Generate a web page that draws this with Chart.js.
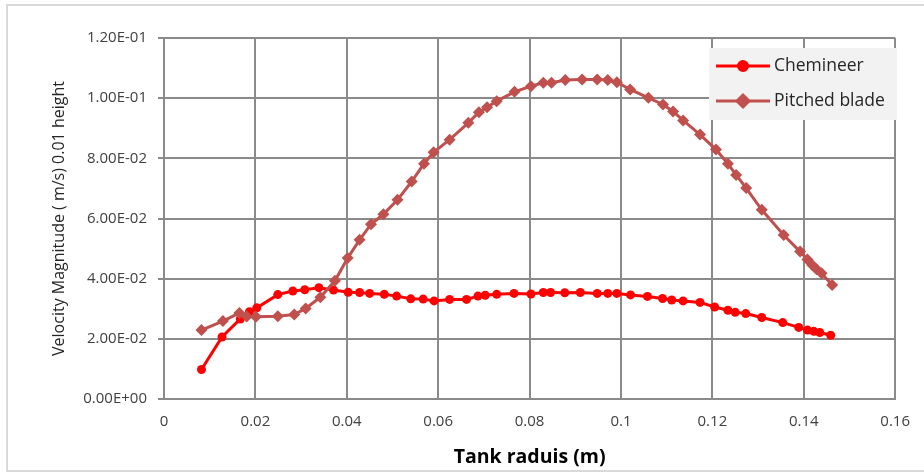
<!DOCTYPE html>
<html>
<head>
<meta charset="utf-8">
<script src="https://cdn.jsdelivr.net/npm/chart.js@4/dist/chart.umd.min.js"></script>
<style>
  html, body { margin: 0; padding: 0; background: #ffffff; overflow: hidden; }
  #wrap { position: relative; width: 924px; height: 475px; }
</style>
</head>
<body>
<div id="wrap"><canvas id="c" width="924" height="475"></canvas></div>
<script>
// ---- data ----
const seriesNames = ['Chemineer', 'Pitched blade'];

const chemineerX = [0.0082, 0.0127, 0.0167, 0.0187, 0.0203, 0.0249, 0.0282, 0.0308, 0.0339, 0.0371,
  0.0403, 0.0428, 0.0450, 0.0482, 0.0509, 0.0540, 0.0567, 0.0591, 0.0625, 0.0662,
  0.0687, 0.0703, 0.0728, 0.0766, 0.0803, 0.0830, 0.0846, 0.0877, 0.0911, 0.0948,
  0.0971, 0.0991, 0.1021, 0.1058, 0.1091, 0.1111, 0.1136, 0.1173, 0.1205, 0.1234,
  0.1250, 0.1273, 0.1308, 0.1354, 0.1389, 0.1408, 0.1422, 0.1435, 0.1459];
const chemineerY = [0.0098, 0.0206, 0.0266, 0.0290, 0.0303, 0.0347, 0.0359, 0.0363, 0.0370, 0.0362,
  0.0355, 0.0354, 0.0351, 0.0348, 0.0342, 0.0333, 0.0332, 0.0326, 0.0331, 0.0331,
  0.0342, 0.0345, 0.0348, 0.0351, 0.0349, 0.0354, 0.0354, 0.0353, 0.0354, 0.0351,
  0.0351, 0.0351, 0.0346, 0.0341, 0.0334, 0.0329, 0.0326, 0.0321, 0.0306, 0.0295,
  0.0288, 0.0284, 0.0271, 0.0254, 0.0238, 0.0229, 0.0225, 0.0221, 0.0212];

const pitchedX = [0.0082, 0.0129, 0.0165, 0.0181, 0.0201, 0.0249, 0.0285, 0.0310, 0.0342, 0.0374,
  0.0402, 0.0428, 0.0453, 0.0480, 0.0511, 0.0542, 0.0569, 0.0590, 0.0625, 0.0666,
  0.0689, 0.0707, 0.0728, 0.0767, 0.0803, 0.0830, 0.0848, 0.0878, 0.0915, 0.0948,
  0.0971, 0.0991, 0.1020, 0.1060, 0.1092, 0.1114, 0.1136, 0.1173, 0.1208, 0.1234,
  0.1252, 0.1274, 0.1308, 0.1356, 0.1392, 0.1408, 0.1419, 0.1428, 0.1439, 0.1462];
const pitchedY = [0.0229, 0.0259, 0.0286, 0.0274, 0.0273, 0.0275, 0.0281, 0.0301, 0.0338, 0.0393,
  0.0469, 0.0529, 0.0581, 0.0614, 0.0662, 0.0723, 0.0782, 0.0820, 0.0862, 0.0918,
  0.0953, 0.0970, 0.0990, 0.1021, 0.1040, 0.1051, 0.1051, 0.1060, 0.1062, 0.1062,
  0.1060, 0.1053, 0.1029, 0.1001, 0.0979, 0.0956, 0.0926, 0.0879, 0.0829, 0.0782,
  0.0745, 0.0701, 0.0629, 0.0545, 0.0490, 0.0464, 0.0445, 0.0431, 0.0418, 0.0379];

const xTickLabels = ['0', '0.02', '0.04', '0.06', '0.08', '0.1', '0.12', '0.14', '0.16'];
const yTickLabels = ['0.00E+00', '2.00E-02', '4.00E-02', '6.00E-02', '8.00E-02', '1.00E-01', '1.20E-01'];

const xTitle = 'Tank raduis (m)';
const yTitle = 'Velocity Magnitude ( m/s) 0.01 height';

// ---- styling ----
const FONT = "'Open Sans', 'DejaVu Sans', sans-serif";
const chemColor = '#ff0000';
const pitchColor = '#c0504d';
const gridColor = '#8a8a8a';

function toPoints(xs, ys) { return xs.map((x, i) => ({ x: x, y: ys[i] })); }

const frame = {
  id: 'frame',
  beforeDraw(chart) {
    const ctx = chart.ctx;
    ctx.save();
    ctx.fillStyle = '#ffffff';
    ctx.fillRect(0, 0, chart.width, chart.height);
    ctx.strokeStyle = '#d9d9d9';
    ctx.lineWidth = 2;
    ctx.strokeRect(7, 5, 940, 466);
    ctx.restore();
  }
};

const boxLegend = {
  id: 'boxLegend',
  afterDraw(chart) {
    const ctx = chart.ctx;
    ctx.save();
    ctx.fillStyle = '#f2f2f2';
    ctx.fillRect(709, 48, 188, 72);
    const rows = [
      { y: 66, color: chemColor, style: 'circle', r: 4.5, name: seriesNames[0] },
      { y: 101, color: pitchColor, style: 'rectRot', r: 6, name: seriesNames[1] }
    ];
    rows.forEach(row => {
      ctx.strokeStyle = row.color;
      ctx.lineWidth = 3;
      ctx.beginPath();
      ctx.moveTo(716, row.y);
      ctx.lineTo(770, row.y);
      ctx.stroke();
      ctx.fillStyle = row.color;
      Chart.helpers.drawPoint(ctx, { pointStyle: row.style, radius: row.r, borderWidth: 1 }, 743, row.y);
      ctx.fill();
      ctx.fillStyle = '#262626';
      ctx.font = "17.5px " + FONT;
      ctx.textBaseline = 'middle';
      ctx.textAlign = 'left';
      ctx.fillText(row.name, 774, row.y);
    });
    ctx.restore();
  }
};

new Chart(document.getElementById('c'), {
  type: 'line',
  data: {
    datasets: [
      {
        label: seriesNames[0],
        data: toPoints(chemineerX, chemineerY),
        borderColor: chemColor,
        backgroundColor: chemColor,
        borderWidth: 3,
        pointStyle: 'circle',
        pointRadius: 4.5,
        pointBorderWidth: 0,
        tension: 0,
        order: 1
      },
      {
        label: seriesNames[1],
        data: toPoints(pitchedX, pitchedY),
        borderColor: pitchColor,
        backgroundColor: pitchColor,
        borderWidth: 3,
        pointStyle: 'rectRot',
        pointRadius: 6,
        pointBorderWidth: 0,
        tension: 0,
        order: 0
      }
    ]
  },
  options: {
    responsive: false,
    devicePixelRatio: 1,
    animation: false,
    events: [],
    layout: { padding: { left: 0, top: 38, right: 24, bottom: 0 } },
    plugins: {
      legend: { display: false },
      tooltip: { enabled: false }
    },
    scales: {
      x: {
        type: 'linear',
        min: 0,
        max: 0.16,
        afterFit(scale) { scale.height = 76; },
        ticks: {
          stepSize: 0.02,
          autoSkip: false,
          maxRotation: 0,
          padding: 14,
          color: '#404040',
          font: { family: FONT, size: 15 },
          callback: (v, i) => xTickLabels[i]
        },
        grid: { color: gridColor, lineWidth: 2, drawTicks: false },
        border: { color: gridColor, width: 2 },
        title: {
          display: true,
          text: xTitle,
          color: '#000000',
          font: { family: FONT, size: 19.5, weight: 'bold' },
          padding: { top: 0, bottom: 6 }
        }
      },
      y: {
        type: 'linear',
        min: 0,
        max: 0.12,
        afterFit(scale) { scale.width = 164; },
        ticks: {
          stepSize: 0.02,
          autoSkip: false,
          padding: 11,
          color: '#404040',
          font: { family: FONT, size: 15 },
          callback: (v, i) => yTickLabels[i]
        },
        grid: { color: gridColor, lineWidth: 2, tickLength: 6 },
        border: { color: gridColor, width: 2 },
        title: {
          display: true,
          text: yTitle,
          color: '#262626',
          font: { family: FONT, size: 16 },
          padding: { top: 50, bottom: 0 }
        }
      }
    }
  },
  plugins: [frame, boxLegend]
});
</script>
</body>
</html>
